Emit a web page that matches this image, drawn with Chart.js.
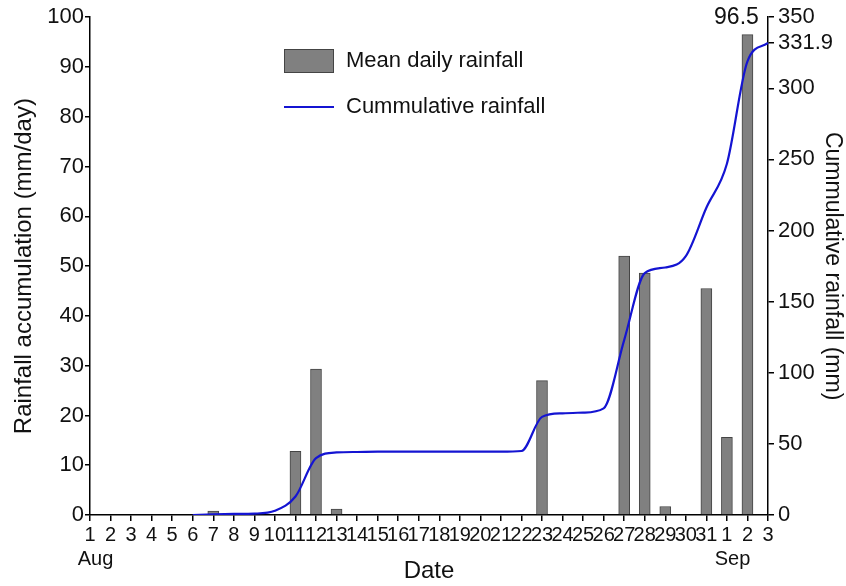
<!DOCTYPE html>
<html>
<head>
<meta charset="utf-8">
<script src="https://cdn.jsdelivr.net/npm/chart.js@4/dist/chart.umd.min.js"></script>
<style>
  html, body { margin: 0; padding: 0; background: #fff; }
  #wrap { width: 846px; height: 586px; }
</style>
</head>
<body>
<div id="wrap"><canvas id="rainChart" width="846" height="586"></canvas></div>
<script>
// dates: Aug 1..31, Sep 1..3 (month names sit a little right of the "1")
var dayLabels = [['1', '  Aug'], '2', '3', '4', '5', '6', '7', '8', '9', '10',
  '11', '12', '13', '14', '15', '16', '17', '18', '19', '20',
  '21', '22', '23', '24', '25', '26', '27', '28', '29', '30', '31',
  ['1', '  Sep'], '2', '3'];

// mean daily rainfall (mm/day), null = no bar
var dailyRain = [null, null, null, null, null, null, 0.8, null, null, null,
  12.8, 29.3, 1.2, null, null, null, null, null, null, null,
  null, null, 27.0, null, null, null, 52.0, 48.6, 1.7, null, 45.5,
  15.6, 96.5, null];

// cumulative rainfall (mm)
var cumRain = [null, null, null, null, null, 0, 0.5, 0.8, 1.0, 3.0,
  13.0, 40.0, 44.0, 44.3, 44.5, 44.5, 44.5, 44.5, 44.5, 44.5,
  44.5, 45.0, 69.0, 71.5, 72.0, 75.0, 123.0, 170.0, 174.0, 182.0, 216.0,
  247.0, 319.0, 331.9];

var leftTicks = [0, 10, 20, 30, 40, 50, 60, 70, 80, 90, 100];
var rightTicks = [0, 50, 100, 150, 200, 250, 300, 331.9, 350];

var FONT = "'Liberation Sans', Arial, sans-serif";
var ctx = document.getElementById('rainChart').getContext('2d');

// legend and the 96.5 label, drawn on top
var extrasPlugin = {
  id: 'extras',
  afterDraw: function (chart) {
    var c = chart.ctx;
    c.save();
    c.font = '22px ' + FONT;
    c.textBaseline = 'middle';
    c.textAlign = 'left';
    // bar legend
    c.fillStyle = '#808080';
    c.fillRect(284, 49, 49, 23);
    c.strokeStyle = '#444';
    c.lineWidth = 1;
    c.strokeRect(284.5, 49.5, 49, 23);
    c.fillStyle = '#111';
    c.fillText('Mean daily rainfall', 346, 61);
    // line legend
    c.strokeStyle = '#1414d2';
    c.lineWidth = 2;
    c.beginPath();
    c.moveTo(284, 107);
    c.lineTo(334, 107);
    c.stroke();
    c.fillText('Cummulative rainfall', 346, 107);

    // value label over the largest bar
    var meta = chart.getDatasetMeta(1);
    var idx = dailyRain.indexOf(96.5);
    var bar = meta.data[idx];
    c.font = '23px ' + FONT;
    c.textAlign = 'center';
    c.fillText(String(dailyRain[idx]), bar.x - 11, bar.y - 17);
    c.restore();
  }
};

var chart = new Chart(ctx, {
  type: 'bar',
  data: {
    labels: dayLabels,
    datasets: [
      {
        type: 'line',
        label: 'Cummulative rainfall',
        data: cumRain,
        yAxisID: 'y2',
        borderColor: '#1414d2',
        borderWidth: 2.2,
        pointRadius: 0,
        fill: false,
        cubicInterpolationMode: 'monotone',
        order: 0
      },
      {
        type: 'bar',
        label: 'Mean daily rainfall',
        data: dailyRain,
        yAxisID: 'y',
        backgroundColor: '#808080',
        borderColor: '#444',
        borderWidth: 1,
        barThickness: 11,
        order: 1
      }
    ]
  },
  options: {
    responsive: false,
    animation: false,
    layout: { padding: { top: 16, right: 0, left: 0, bottom: 0 } },
    plugins: {
      legend: { display: false },
      tooltip: { enabled: false }
    },
    scales: {
      x: {
        offset: false,
        grid: { offset: false, drawOnChartArea: false, color: '#000', tickLength: 6, lineWidth: 1.5 },
        border: { color: '#000', width: 1.5 },
        ticks: {
          autoSkip: false, maxRotation: 0, minRotation: 0,
          color: '#111', padding: 2,
          font: { family: FONT, size: 20 }
        },
        title: {
          display: true, text: 'Date', color: '#111',
          font: { family: FONT, size: 24 },
          padding: { top: 0, bottom: 0 }
        },
        afterFit: function (s) { s.height = 71; }
      },
      y: {
        position: 'left',
        min: 0, max: 100,
        afterBuildTicks: function (s) {
          s.ticks = leftTicks.map(function (v) { return { value: v }; });
        },
        grid: { drawOnChartArea: false, color: '#000', tickLength: 5, lineWidth: 1.5 },
        border: { color: '#000', width: 1.5 },
        ticks: { color: '#111', padding: 1, font: { family: FONT, size: 22 } },
        title: {
          display: true, text: 'Rainfall accumulation (mm/day)', color: '#111',
          font: { family: FONT, size: 24 },
          padding: { top: 9.5, bottom: 0 }
        },
        afterFit: function (s) { s.width = 90; }
      },
      y2: {
        position: 'right',
        min: 0, max: 350,
        afterBuildTicks: function (s) {
          s.ticks = rightTicks.map(function (v) { return { value: v }; });
        },
        grid: { drawOnChartArea: false, color: '#000', tickLength: 6, lineWidth: 1.5 },
        border: { color: '#000', width: 1.5 },
        ticks: {
          color: '#111', padding: 4, font: { family: FONT, size: 22 },
          callback: function (v) { return String(v); }
        },
        title: {
          display: true, text: 'Cummulative rainfall (mm)', color: '#111',
          font: { family: FONT, size: 23 },
          padding: { top: 0, bottom: 0 }
        },
        afterFit: function (s) { s.width = 78; }
      }
    }
  },
  plugins: [extrasPlugin]
});
</script>
</body>
</html>
